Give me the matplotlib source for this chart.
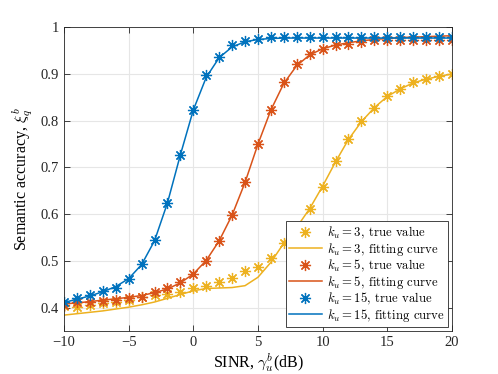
import numpy as np
import matplotlib.pyplot as plt

plt.rcParams['font.family'] = ['Liberation Serif', 'DejaVu Serif']
plt.rcParams['mathtext.fontset'] = 'cm'

# SINR (dB)
sinr = np.arange(-10, 21)

# k_u = 3
k3_true = [0.404, 0.401, 0.406, 0.410, 0.413, 0.417, 0.422, 0.427, 0.429, 0.433,
           0.441, 0.447, 0.455, 0.463, 0.479, 0.486, 0.507, 0.538, 0.569, 0.611,
           0.659, 0.714, 0.761, 0.799, 0.827, 0.854, 0.868, 0.882, 0.889, 0.895, 0.900]
k3_fit = [0.384, 0.387, 0.390, 0.393, 0.397, 0.401, 0.406, 0.412, 0.420, 0.428,
          0.436, 0.441, 0.442, 0.443, 0.447, 0.465, 0.497, 0.538, 0.572, 0.612,
          0.660, 0.712, 0.760, 0.798, 0.828, 0.852, 0.868, 0.881, 0.889, 0.895, 0.900]

# k_u = 5
k5_true = [0.406, 0.412, 0.413, 0.415, 0.417, 0.420, 0.422, 0.433, 0.441, 0.455,
           0.473, 0.500, 0.543, 0.598, 0.669, 0.751, 0.822, 0.883, 0.922, 0.943,
           0.953, 0.962, 0.964, 0.969, 0.972, 0.972, 0.973, 0.973, 0.973, 0.973, 0.973]
k5_fit = [0.408, 0.410, 0.413, 0.416, 0.419, 0.422, 0.426, 0.432, 0.440, 0.453,
          0.472, 0.501, 0.543, 0.598, 0.668, 0.750, 0.823, 0.880, 0.918, 0.941,
          0.954, 0.962, 0.967, 0.971, 0.974, 0.976, 0.978, 0.979, 0.980, 0.981, 0.982]

# k_u = 15
k15_true = [0.413, 0.421, 0.426, 0.435, 0.443, 0.461, 0.493, 0.545, 0.625, 0.726,
            0.822, 0.898, 0.937, 0.962, 0.971, 0.976, 0.979, 0.979, 0.980, 0.980,
            0.980, 0.980, 0.980, 0.980, 0.980, 0.980, 0.980, 0.980, 0.980, 0.980, 0.980]
k15_fit = [0.411, 0.418, 0.425, 0.434, 0.445, 0.462, 0.492, 0.543, 0.624, 0.727,
           0.823, 0.893, 0.935, 0.958, 0.969, 0.974, 0.976, 0.977, 0.977, 0.977,
           0.977, 0.977, 0.977, 0.977, 0.977, 0.977, 0.977, 0.977, 0.977, 0.977, 0.977]

c_blue = '#0072BD'
c_red = '#D95319'
c_yel = '#EDB120'

fig = plt.figure(figsize=(4.98, 3.74), dpi=100)
ax = fig.add_axes([0.1285, 0.115, 0.779, 0.812])

# MATLAB-style asterisk marker (8 spokes)
star = (8, 2, 0)

series = [(k3_true, k3_fit, c_yel, '3'), (k5_true, k5_fit, c_red, '5'),
          (k15_true, k15_fit, c_blue, '15')]
for tv, fv, c, k in series:
    ax.plot(sinr, tv, linestyle='none', marker=star, color=c, markersize=8,
            markeredgewidth=0.9, label=r'$k_u=%s$, true value' % k)
    ax.plot(sinr, fv, color=c, linewidth=1.1, label=r'$k_u=%s$, fitting curve' % k)

ax.set_xlim(-10, 20)
ax.set_ylim(0.35, 1)
ax.set_xticks([-10, -5, 0, 5, 10, 15, 20])
ax.set_yticks([0.4, 0.5, 0.6, 0.7, 0.8, 0.9, 1])
ax.set_yticklabels(['0.4', '0.5', '0.6', '0.7', '0.8', '0.9', '1'])
ax.grid(True, color='#e6e6e6', linewidth=0.8)
ax.set_axisbelow(True)
ax.tick_params(direction='in', top=True, right=True, labelsize=10.5,
               colors='#262626', length=4, width=0.6)
for s in ax.spines.values():
    s.set_color('#262626')
    s.set_linewidth(0.6)

ax.set_xlabel(r'SINR, $\gamma_u^b$(dB)', fontsize=11.5, labelpad=2)
ax.set_ylabel(r'Semantic accuracy, $\xi_q^b$', fontsize=11.5, labelpad=4)

leg = ax.legend(loc='lower right', prop={'family': 'cmr10', 'size': 9.2},
                fancybox=False, framealpha=1, edgecolor='#262626',
                borderaxespad=0.3, handlelength=2.6, labelspacing=0.0,
                borderpad=0.25, handletextpad=0.4)
leg.get_frame().set_linewidth(0.6)

plt.savefig('out.png', dpi=100)
